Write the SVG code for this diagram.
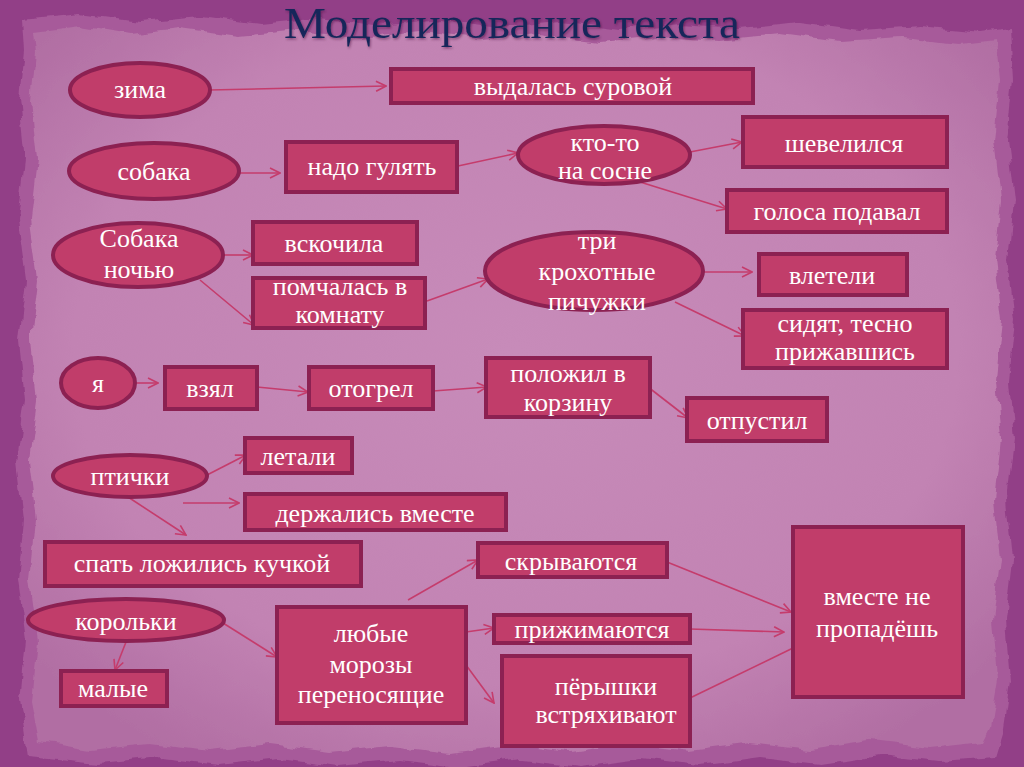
<svg xmlns="http://www.w3.org/2000/svg" width="1024" height="767" viewBox="0 0 1024 767">
<defs>
<radialGradient id="paperG" cx="0.5" cy="0.45" r="0.65">
<stop offset="0" stop-color="#c78bb9"/>
<stop offset="0.7" stop-color="#c283b3"/>
<stop offset="1" stop-color="#b16ea3"/>
</radialGradient>
<filter id="rough" x="-5%" y="-5%" width="110%" height="110%">
<feTurbulence type="fractalNoise" baseFrequency="0.04" numOctaves="3" seed="4" result="n"/>
<feDisplacementMap in="SourceGraphic" in2="n" scale="10" xChannelSelector="R" yChannelSelector="G"/>
</filter>
<filter id="shadow" x="-10%" y="-10%" width="130%" height="140%">
<feDropShadow dx="1" dy="1.5" stdDeviation="0.8" flood-color="#3a0a2a" flood-opacity="0.45"/>
</filter>
<marker id="arr" viewBox="0 0 12 12" refX="11" refY="6" markerWidth="12" markerHeight="12" markerUnits="userSpaceOnUse" orient="auto">
<path d="M1,1 L11,6 L1,11" fill="none" stroke="#c53c6c" stroke-width="1.6"/>
</marker>
</defs>
<style>
.box{fill:#c13d6a;stroke:#8c2152;stroke-width:4}
.ell{fill:#c13d6a;stroke:#8c2152;stroke-width:4}
.t{font-family:"Liberation Serif","DejaVu Serif",serif;font-size:26px;fill:#ffffff;text-anchor:middle}
.c{fill:none;stroke:#c53c6c;stroke-width:1.6}
.title{font-family:"Liberation Serif","DejaVu Serif",serif;font-size:44px;fill:#16285a;text-anchor:middle}
</style>
<rect x="0" y="0" width="1024" height="767" fill="#923f87"/>
<g filter="url(#rough)">
<polygon fill="#a75a9a" points="22,20 80,14 140,22 200,16 260,24 320,18 380,26 440,20 500,27 560,22 620,30 680,24 740,28 800,22 860,30 920,26 980,32 1010,28 1013,80 1007,140 1014,200 1008,260 1015,320 1009,380 1014,440 1007,500 1013,560 1006,620 1011,680 1003,735 996,758 940,762 880,755 820,764 760,757 700,765 640,758 580,766 520,759 460,767 400,760 340,766 280,758 220,765 160,758 100,764 28,757 20,700 26,640 18,580 24,520 17,460 25,400 19,340 26,280 18,220 25,160 19,100 24,50"/>
<polygon fill="url(#paperG)" points="34,32 80,26 130,34 180,28 240,36 300,30 360,38 420,32 480,39 540,34 600,42 660,36 720,40 780,34 840,42 900,38 960,44 996,40 1000,80 994,140 1001,200 995,260 1002,320 996,380 1001,440 994,500 1000,560 993,620 998,680 990,728 983,742 930,748 870,741 810,750 750,743 690,751 630,744 570,752 510,745 450,753 390,746 330,752 270,744 210,751 150,744 90,750 40,742 32,700 38,640 30,580 36,520 29,460 37,400 31,340 38,280 30,220 37,160 31,100 36,50"/>
</g>
<text class="title" x="512" y="38" textLength="456" lengthAdjust="spacingAndGlyphs" filter="url(#shadow)">Моделирование текста</text>

<g id="connectors">
<line class="c" x1="209" y1="90" x2="386" y2="86" marker-end="url(#arr)"/>
<line class="c" x1="238" y1="173" x2="280" y2="173" marker-end="url(#arr)"/>
<line class="c" x1="458" y1="166" x2="518" y2="153" marker-end="url(#arr)"/>
<line class="c" x1="690" y1="152" x2="742" y2="142" marker-end="url(#arr)"/>
<line class="c" x1="640" y1="182" x2="727" y2="209" marker-end="url(#arr)"/>
<line class="c" x1="223" y1="255" x2="253" y2="255" marker-end="url(#arr)"/>
<line class="c" x1="200" y1="280" x2="254" y2="325" marker-end="url(#arr)"/>
<line class="c" x1="427" y1="301" x2="488" y2="279" marker-end="url(#arr)"/>
<line class="c" x1="702" y1="272" x2="752" y2="272" marker-end="url(#arr)"/>
<line class="c" x1="675" y1="302" x2="745" y2="336" marker-end="url(#arr)"/>
<line class="c" x1="137" y1="383" x2="158" y2="383" marker-end="url(#arr)"/>
<line class="c" x1="257" y1="387" x2="308" y2="392" marker-end="url(#arr)"/>
<line class="c" x1="433" y1="391" x2="487" y2="387" marker-end="url(#arr)"/>
<line class="c" x1="648" y1="387" x2="688" y2="418" marker-end="url(#arr)"/>
<line class="c" x1="207" y1="475" x2="246" y2="455" marker-end="url(#arr)"/>
<line class="c" x1="183" y1="503" x2="239" y2="503" marker-end="url(#arr)"/>
<line class="c" x1="128" y1="497" x2="186" y2="535" marker-end="url(#arr)"/>
<line class="c" x1="126" y1="642" x2="115" y2="670" marker-end="url(#arr)"/>
<line class="c" x1="223" y1="623" x2="277" y2="657" marker-end="url(#arr)"/>
<line class="c" x1="408" y1="600" x2="478" y2="560" marker-end="url(#arr)"/>
<line class="c" x1="466" y1="632" x2="494" y2="628" marker-end="url(#arr)"/>
<line class="c" x1="466" y1="665" x2="494" y2="703" marker-end="url(#arr)"/>
<line class="c" x1="667" y1="562" x2="791" y2="612" marker-end="url(#arr)"/>
<line class="c" x1="690" y1="629" x2="784" y2="632" marker-end="url(#arr)"/>
<line class="c" x1="690" y1="698" x2="793" y2="648"/>
</g>

<g id="n-zima"><ellipse class="ell" cx="140" cy="90" rx="70" ry="27"/><text class="t" x="140" y="98">зима</text></g>
<g id="n-vydalas"><rect class="box" x="391" y="69" width="362" height="34"/><text class="t" x="573" y="95">выдалась суровой</text></g>
<g id="n-sobaka"><ellipse class="ell" cx="154" cy="171" rx="85" ry="28"/><text class="t" x="154" y="180">собака</text></g>
<g id="n-nado"><rect class="box" x="286" y="142" width="171" height="50"/><text class="t" x="372" y="175">надо гулять</text></g>
<g id="n-sobaka-noch"><ellipse class="ell" cx="138" cy="255" rx="85" ry="32"/><text class="t" x="139" y="247">Собака</text><text class="t" x="139" y="278">ночью</text></g>
<g id="n-vskochila"><rect class="box" x="253" y="222" width="164" height="42"/><text class="t" x="334" y="252">вскочила</text></g>
<g id="n-pomchalas"><rect class="box" x="253" y="278" width="172" height="50"/><text class="t" x="340" y="295">помчалась в</text><text class="t" x="340" y="323">комнату</text></g>
<g id="n-ktoto"><ellipse class="ell" cx="604" cy="155" rx="86" ry="29"/><text class="t" x="605" y="151">кто-то</text><text class="t" x="605" y="179">на сосне</text></g>
<g id="n-shevelilsya"><rect class="box" x="743" y="117" width="204" height="50"/><text class="t" x="844" y="152">шевелился</text></g>
<g id="n-golosa"><rect class="box" x="727" y="190" width="220" height="42"/><text class="t" x="837" y="220">голоса подавал</text></g>
<g id="n-tri"><ellipse class="ell" cx="594" cy="271" rx="109" ry="39"/><text class="t" x="597" y="249">три</text><text class="t" x="597" y="280">крохотные</text><text class="t" x="597" y="310">пичужки</text></g>
<g id="n-vleteli"><rect class="box" x="759" y="254" width="148" height="41"/><text class="t" x="832" y="284">влетели</text></g>
<g id="n-sidyat"><rect class="box" x="743" y="310" width="204" height="58"/><text class="t" x="845" y="332">сидят, тесно</text><text class="t" x="845" y="360">прижавшись</text></g>
<g id="n-ya"><ellipse class="ell" cx="98" cy="383" rx="37" ry="25"/><text class="t" x="98" y="392">я</text></g>
<g id="n-vzyal"><rect class="box" x="165" y="367" width="92" height="42"/><text class="t" x="210" y="397">взял</text></g>
<g id="n-otogrel"><rect class="box" x="309" y="367" width="124" height="42"/><text class="t" x="371" y="397">отогрел</text></g>
<g id="n-polozhil"><rect class="box" x="486" y="358" width="164" height="59"/><text class="t" x="568" y="382">положил в</text><text class="t" x="568" y="411">корзину</text></g>
<g id="n-otpustil"><rect class="box" x="687" y="398" width="140" height="43"/><text class="t" x="757" y="429">отпустил</text></g>
<g id="n-letali"><rect class="box" x="245" y="438" width="107" height="35"/><text class="t" x="298" y="465">летали</text></g>
<g id="n-ptichki"><ellipse class="ell" cx="130" cy="476" rx="77" ry="21"/><text class="t" x="130" y="485">птички</text></g>
<g id="n-derzhalis"><rect class="box" x="245" y="494" width="261" height="36"/><text class="t" x="375" y="522">держались вместе</text></g>
<g id="n-spat"><rect class="box" x="45" y="542" width="316" height="44"/><text class="t" x="202" y="572">спать ложились кучкой</text></g>
<g id="n-skryvayutsya"><rect class="box" x="478" y="543" width="189" height="34"/><text class="t" x="571" y="570">скрываются</text></g>
<g id="n-korolki"><ellipse class="ell" cx="126" cy="620" rx="98" ry="21"/><text class="t" x="126" y="630">корольки</text></g>
<g id="n-malye"><rect class="box" x="61" y="671" width="106" height="35"/><text class="t" x="113" y="697">малые</text></g>
<g id="n-lyubye"><rect class="box" x="277" y="607" width="189" height="116"/><text class="t" x="371" y="642">любые</text><text class="t" x="371" y="673">морозы</text><text class="t" x="371" y="703">переносящие</text></g>
<g id="n-prizhimayutsya"><rect class="box" x="494" y="615" width="196" height="28"/><text class="t" x="592" y="638">прижимаются</text></g>
<g id="n-peryshki"><rect class="box" x="502" y="656" width="188" height="90"/><text class="t" x="606" y="695">пёрышки</text><text class="t" x="606" y="723">встряхивают</text></g>
<g id="n-vmeste"><rect class="box" x="793" y="527" width="170" height="170"/><text class="t" x="877" y="605">вместе не</text><text class="t" x="877" y="637">пропадёшь</text></g>
</svg>
